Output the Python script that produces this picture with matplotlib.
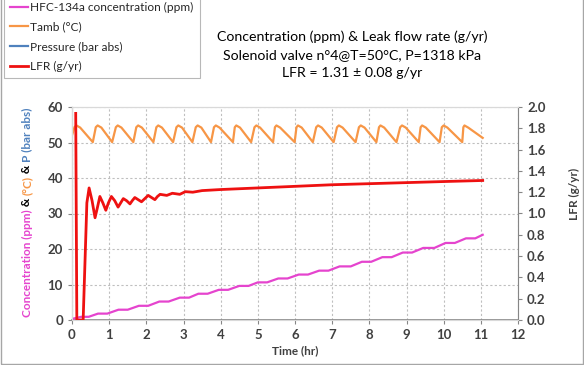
import matplotlib
matplotlib.use("Agg")
import matplotlib.pyplot as plt
from matplotlib.lines import Line2D
from matplotlib.patches import Rectangle

plt.rcParams['font.family'] = ['Lato', 'DejaVu Sans']

# HFC-134a concentration (ppm)
conc_t = [0.0, 0.25, 0.45, 0.7, 0.95, 1.25, 1.5, 1.8, 2.05, 2.35, 2.6, 2.9, 3.15,
          3.4, 3.65, 3.95, 4.2, 4.5, 4.75, 5.0, 5.25, 5.55, 5.8, 6.1, 6.35, 6.65,
          6.9, 7.2, 7.5, 7.8, 8.05, 8.35, 8.6, 8.9, 9.15, 9.45, 9.75, 10.05, 10.3,
          10.6, 10.85, 11.05]
conc_v = [0.3, 0.9, 0.9, 1.8, 1.8, 2.9, 2.9, 4.0, 4.0, 5.2, 5.2, 6.3, 6.3,
          7.4, 7.4, 8.5, 8.5, 9.6, 9.6, 10.6, 10.6, 11.7, 11.7, 12.8, 12.8, 13.9,
          13.9, 15.1, 15.1, 16.4, 16.4, 17.7, 17.7, 19.0, 19.0, 20.3, 20.3, 21.7, 21.7,
          23.0, 23.0, 24.0]

# Ambient temperature (°C): trough, peak, shoulder per cycle
tamb_t = [0.0, 0.07, 0.12, 0.22, 0.56, 0.64, 0.69, 0.79, 1.08, 1.18, 1.23, 1.33,
          1.65, 1.73, 1.78, 1.88, 2.19, 2.27, 2.32, 2.42, 2.72, 2.81, 2.86, 2.96,
          3.24, 3.33, 3.38, 3.48, 3.74, 3.82, 3.87, 3.97, 4.33, 4.38, 4.42, 4.52,
          4.82, 4.91, 4.96, 5.06, 5.41, 5.46, 5.50, 5.60, 5.99, 6.04, 6.08, 6.18,
          6.48, 6.57, 6.62, 6.72, 7.04, 7.13, 7.18, 7.28, 7.63, 7.72, 7.77, 7.87,
          8.19, 8.26, 8.30, 8.40, 8.73, 8.83, 8.88, 8.98, 9.33, 9.38, 9.42, 9.52,
          9.89, 9.95, 10.00, 10.10, 10.50, 10.53, 10.56, 10.66, 11.05]
tamb_v = [52.0, 54.4, 54.8, 54.2, 50.1, 54.3, 54.8, 54.2, 50.1, 54.3, 54.8, 54.2,
          50.1, 54.3, 54.8, 54.2, 50.1, 54.3, 54.8, 54.2, 50.1, 54.3, 54.8, 54.2,
          50.1, 54.3, 54.8, 54.2, 50.1, 54.3, 54.8, 54.2, 50.1, 54.3, 54.8, 54.2,
          50.1, 54.3, 54.8, 54.2, 50.1, 54.3, 54.8, 54.2, 50.1, 54.3, 54.8, 54.2,
          50.1, 54.3, 54.8, 54.2, 50.1, 54.3, 54.8, 54.2, 50.1, 54.3, 54.8, 54.2,
          50.1, 54.3, 54.8, 54.2, 50.1, 54.3, 54.8, 54.2, 50.1, 54.3, 54.8, 54.2,
          50.1, 54.3, 54.8, 54.2, 50.1, 54.3, 54.8, 54.2, 51.3]

# Pressure (bar abs) - no samples in range
pres_t = []
pres_v = []

# Leak flow rate (g/yr)
lfr_t = [0.10, 0.13, 0.30, 0.40, 0.46, 0.54, 0.62, 0.68, 0.75, 0.83, 0.91, 0.98,
         1.06, 1.15, 1.24, 1.31, 1.38, 1.47, 1.56, 1.62, 1.69, 1.78, 1.87, 1.96,
         2.05, 2.14, 2.23, 2.30, 2.37, 2.55, 2.70, 2.90, 3.05, 3.25, 3.50, 4.0,
         5.0, 6.0, 7.0, 8.0, 9.0, 10.0, 11.05]
lfr_v = [1.94, 0.0, 0.0, 1.10, 1.24, 1.12, 0.96, 1.05, 1.16, 1.10, 1.03, 1.10,
         1.16, 1.12, 1.06, 1.10, 1.14, 1.12, 1.09, 1.12, 1.15, 1.13, 1.11, 1.14,
         1.17, 1.15, 1.13, 1.16, 1.18, 1.17, 1.19, 1.18, 1.205, 1.20, 1.215, 1.225,
         1.24, 1.255, 1.27, 1.28, 1.29, 1.30, 1.31]

x_ticks = list(range(0, 13))
left_ticks = [0, 10, 20, 30, 40, 50, 60]
right_ticks = [0.0, 0.2, 0.4, 0.6, 0.8, 1.0, 1.2, 1.4, 1.6, 1.8, 2.0]

title_lines = ["Concentration (ppm) & Leak flow rate (g/yr)",
               "Solenoid valve n°4@T=50°C, P=1318 kPa",
               "LFR = 1.31 ± 0.08 g/yr"]

MAGENTA = '#E544CE'
ORANGE = '#F79646'
BLUE = '#4F81BD'
RED = '#EE1111'
TXT = '#404040'
GRID = '#BFBFBF'

fig = plt.figure(figsize=(5.84, 3.65), dpi=100)
ax = fig.add_axes([72 / 584, 45 / 365, 446 / 584, 213 / 365])
ax2 = ax.twinx()

ax.plot(conc_t, conc_v, color=MAGENTA, lw=1.6, solid_joinstyle='round', zorder=3)
ax.plot(tamb_t, tamb_v, color=ORANGE, lw=1.6, solid_joinstyle='round', zorder=3)
ax.plot(pres_t, pres_v, color=BLUE, lw=1.6)
ax2.plot(lfr_t, lfr_v, color=RED, lw=2.0, solid_joinstyle='round', zorder=4)

ax.set_xlim(0, 12)
ax.set_ylim(0, 60)
ax2.set_ylim(0, 2.0)
ax.set_xticks(x_ticks)
ax.set_yticks(left_ticks)
ax2.set_yticks(right_ticks)
ax2.set_yticklabels([f"{v:.1f}" for v in right_ticks])

ax.grid(True, color=GRID, linestyle=(0, (2, 2)), linewidth=0.8)
ax.set_axisbelow(True)

for a in (ax, ax2):
    a.tick_params(labelsize=9.5, length=3, width=0.8)
    for s in a.spines.values():
        s.set_color('#D9D9D9')
        s.set_linewidth(0.8)
ax.spines['left'].set_color('#868686')
ax.spines['bottom'].set_color('#868686')
ax.spines['bottom'].set_linewidth(1.2)
ax2.spines['right'].set_color('#868686')
ax.tick_params(axis='both', colors='#868686', labelcolor=TXT)
ax2.tick_params(axis='y', colors='#868686', labelcolor=TXT)
for lab in ax.get_xticklabels() + ax.get_yticklabels() + ax2.get_yticklabels():
    lab.set_fontweight('bold')

ax.set_xlabel("Time (hr)", fontsize=8.5, color=TXT, fontweight='bold', labelpad=3)
ax2.set_ylabel("LFR (g/yr)", fontsize=8.5, color=TXT, fontweight='bold')
ax2.yaxis.set_label_coords(1.115, 0.59)

# Multi-coloured left axis label, stacked bottom to top
segments = [("Concentration (ppm)", MAGENTA), (" & ", 'black'),
            ("(°C)", ORANGE), (" & ", 'black'), ("P (bar abs)", BLUE)]
fig.canvas.draw()
renderer = fig.canvas.get_renderer()
texts = []
total = 0.0
for s, c in segments:
    t = fig.text(0, 0, s, color=c, fontsize=8.5, fontweight='bold', rotation=90,
                 rotation_mode='anchor', ha='left', va='center')
    h = t.get_window_extent(renderer).height
    texts.append((t, h))
    total += h
ypix = (365 - 212) - total / 2
for t, h in texts:
    t.set_position((27 / 584, ypix / 365))
    ypix += h

# Title block
for i, line in enumerate(title_lines):
    fig.text(352 / 584, 1 - (37 + 18 * i) / 365, line, ha='center', va='center',
             fontsize=10.2, color='black')

# Legend
handles = [Line2D([], [], color=MAGENTA, lw=1.6),
           Line2D([], [], color=ORANGE, lw=1.6),
           Line2D([], [], color=BLUE, lw=1.6),
           Line2D([], [], color=RED, lw=2.0)]
labels = ["HFC-134a concentration (ppm)", "Tamb (°C)", "Pressure (bar abs)", "LFR (g/yr)"]
leg = fig.legend(handles, labels, loc='upper left', bbox_to_anchor=(4 / 584, 1.0 + 4 / 365),
                 bbox_transform=fig.transFigure, fontsize=8.6, frameon=True, fancybox=False,
                 edgecolor='#A6A6A6', handlelength=1.5, handletextpad=0.2,
                 labelspacing=0.72, borderpad=0.5, borderaxespad=0)
for txt in leg.get_texts():
    txt.set_color('#262626')
leg.get_frame().set_linewidth(0.8)

# Outer chart border
fig.patches.append(Rectangle((0.001, 0.003), 0.997, 1.2, transform=fig.transFigure,
                             fill=False, edgecolor='#A6A6A6', lw=1.0))

fig.savefig("out.png", dpi=100)
